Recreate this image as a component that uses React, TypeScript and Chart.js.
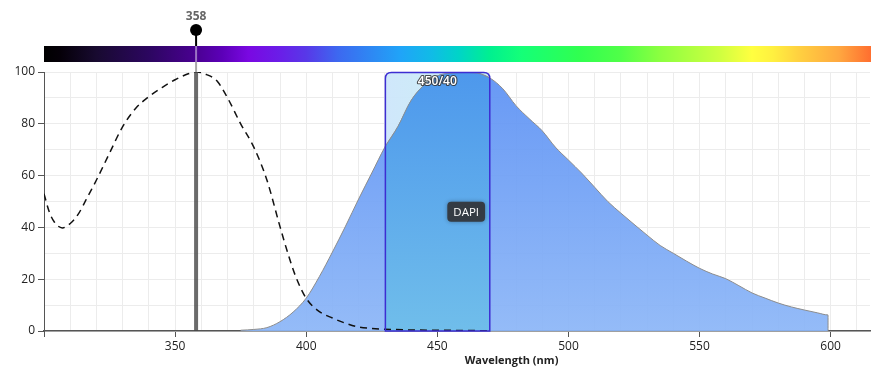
import React, { useEffect, useRef } from 'react';
import { Chart, registerables } from 'chart.js';

Chart.register(...registerables);

// ---------- data ----------
const excitationWavelengths = [300, 302, 304, 307, 310, 313, 316, 320, 325, 330, 335, 340, 345, 350, 355, 358, 362, 366, 370, 375, 380, 385, 390, 393, 396, 400, 405, 410, 415, 420, 425, 430, 440, 450, 460, 470];
const excitationValues = [53, 46, 42, 39.8, 41.5, 45, 50.6, 58.3, 68.7, 78.9, 86, 90.5, 94, 97, 99.3, 100, 99, 96.5, 90, 80, 71, 58.3, 40.3, 30, 21, 12.6, 7.5, 5, 3, 1.5, 1, 0.7, 0.4, 0.3, 0.2, 0.1];

const emissionWavelengths = [375, 380, 385, 390, 395, 400, 405, 410, 415, 420, 425, 430, 435, 440, 445, 450, 455, 460, 465, 470, 475, 480, 485, 490, 495, 500, 505, 510, 515, 520, 525, 530, 535, 540, 545, 550, 555, 560, 565, 570, 575, 580, 585, 590, 595, 599, 599];
const emissionValues = [0.3, 0.6, 1.3, 3.6, 7.3, 12.7, 21, 30.5, 40.5, 51, 61, 71, 79, 89, 95, 98.5, 99.5, 99.8, 99.6, 97.7, 93.5, 87, 82, 77.3, 71, 66, 61, 55.5, 50, 45.5, 41.2, 37, 33, 30, 27, 24.2, 22, 20.2, 17.5, 14.7, 12.7, 10.8, 9.3, 8.1, 7, 6.2, 0];

const filterCenter = 450;
const filterBandwidth = 40;
const filterLabel = '450/40';
const laserWavelengths = [358];
const fluorophoreLabel = 'DAPI';
const fluorophoreLabelAt = [461, 46];

const xTickLabels = [350, 400, 450, 500, 550, 600];
const yTickLabels = [0, 20, 40, 60, 80, 100];
const xTitle = 'Wavelength (nm)';

const colorbarStops = [300, 306, 320, 340, 358, 368, 378, 390, 400, 412, 428, 436, 448, 458, 470, 482, 504, 520, 535, 558, 570, 578, 588, 603, 615];
const colorbarColors = ['#000000', '#050008', '#180a30', '#2c0660', '#4a0092', '#5c00b8', '#7a08e2', '#6a1ee8', '#5838e8', '#3d68f0', '#2a90f4', '#20a4f8', '#10bce6', '#00d4c8', '#00f090', '#14ff78', '#30ff50', '#50ff48', '#8cff40', '#d0ff40', '#ffff40', '#fff040', '#ffd040', '#ffa840', '#ff7030'];

const FONT = "'Open Sans', 'DejaVu Sans', sans-serif";

function toPoints(xs: number[], ys: number[]) {
  return xs.map((x, i) => ({ x, y: ys[i] }));
}

function topRoundedRect(ctx: CanvasRenderingContext2D, l: number, t: number, r: number, b: number, rad: number) {
  ctx.beginPath();
  ctx.moveTo(l, b);
  ctx.lineTo(l, t + rad);
  ctx.quadraticCurveTo(l, t, l + rad, t);
  ctx.lineTo(r - rad, t);
  ctx.quadraticCurveTo(r, t, r, t + rad);
  ctx.lineTo(r, b);
  ctx.closePath();
}

function roundRect(ctx: CanvasRenderingContext2D, x: number, y: number, w: number, h: number, r: number) {
  ctx.beginPath();
  ctx.moveTo(x + r, y);
  ctx.lineTo(x + w - r, y);
  ctx.quadraticCurveTo(x + w, y, x + w, y + r);
  ctx.lineTo(x + w, y + h - r);
  ctx.quadraticCurveTo(x + w, y + h, x + w - r, y + h);
  ctx.lineTo(x + r, y + h);
  ctx.quadraticCurveTo(x, y + h, x, y + h - r);
  ctx.lineTo(x, y + r);
  ctx.quadraticCurveTo(x, y, x + r, y);
  ctx.closePath();
}

const spectraPlugin = {
  id: 'spectraExtras',
  beforeDatasetsDraw(chart: any) {
    const { ctx, scales } = chart;
    const x = scales.x, y = scales.y;
    const l = x.getPixelForValue(filterCenter - filterBandwidth / 2);
    const r = x.getPixelForValue(filterCenter + filterBandwidth / 2);
    const t = y.getPixelForValue(100);
    const b = y.getPixelForValue(0);
    ctx.save();
    const g = ctx.createLinearGradient(l, 0, r, 0);
    g.addColorStop(0, 'rgba(205,230,251,0.95)');
    g.addColorStop(1, 'rgba(200,240,242,0.95)');
    ctx.fillStyle = g;
    topRoundedRect(ctx, l, t, r, b, 6);
    ctx.fill();
    ctx.restore();
  },
  afterDatasetsDraw(chart: any) {
    const { ctx, scales, chartArea } = chart;
    const x = scales.x, y = scales.y;
    const l = x.getPixelForValue(filterCenter - filterBandwidth / 2);
    const r = x.getPixelForValue(filterCenter + filterBandwidth / 2);
    const t = y.getPixelForValue(100);
    const b = y.getPixelForValue(0);
    ctx.save();
    ctx.strokeStyle = '#3d2ed2';
    ctx.lineWidth = 1.5;
    topRoundedRect(ctx, l + 0.5, t + 0.5, r, b, 6);
    ctx.stroke();

    laserWavelengths.forEach((w) => {
      const px = x.getPixelForValue(w);
      ctx.strokeStyle = 'rgba(70,70,70,0.8)';
      ctx.lineWidth = 4;
      ctx.beginPath();
      ctx.moveTo(px, chartArea.top);
      ctx.lineTo(px, chartArea.bottom);
      ctx.stroke();
    });

    ctx.font = `600 12px ${FONT}`;
    ctx.textAlign = 'center';
    ctx.textBaseline = 'middle';
    const fx = x.getPixelForValue(filterCenter);
    ctx.lineJoin = 'round';
    ctx.strokeStyle = 'rgba(50,50,50,0.85)';
    ctx.lineWidth = 2.2;
    ctx.strokeText(filterLabel, fx, t + 9.5);
    ctx.fillStyle = '#ffffff';
    ctx.fillText(filterLabel, fx, t + 9.5);

    const dx = x.getPixelForValue(fluorophoreLabelAt[0]);
    const dy = y.getPixelForValue(fluorophoreLabelAt[1]);
    ctx.font = `11.5px ${FONT}`;
    const tw = ctx.measureText(fluorophoreLabel).width;
    const bw = tw + 12, bh = 20;
    ctx.shadowColor = 'rgba(0,0,0,0.35)';
    ctx.shadowBlur = 4;
    ctx.fillStyle = 'rgba(52,56,62,0.95)';
    roundRect(ctx, dx - bw / 2, dy - bh / 2, bw, bh, 4);
    ctx.fill();
    ctx.shadowBlur = 0;
    ctx.shadowColor = 'transparent';
    ctx.fillStyle = '#ffffff';
    ctx.fillText(fluorophoreLabel, dx, dy + 0.5);
    ctx.restore();
  },
  afterDraw(chart: any) {
    const { ctx, scales, chartArea } = chart;
    const x = scales.x;
    const barTop = chartArea.top - 26;
    const barH = 16;
    ctx.save();
    const g = ctx.createLinearGradient(chartArea.left, 0, chartArea.right, 0);
    const span = chartArea.right - chartArea.left;
    colorbarStops.forEach((w, i) => {
      const p = (x.getPixelForValue(w) - chartArea.left) / span;
      g.addColorStop(Math.min(1, Math.max(0, p)), colorbarColors[i]);
    });
    ctx.fillStyle = g;
    ctx.fillRect(chartArea.left, barTop, span + 1, barH);

    laserWavelengths.forEach((w) => {
      const px = x.getPixelForValue(w);
      ctx.strokeStyle = '#a8a8a8';
      ctx.lineWidth = 2;
      ctx.beginPath();
      ctx.moveTo(px, barTop + barH);
      ctx.lineTo(px, chartArea.top);
      ctx.stroke();
      ctx.strokeStyle = 'rgba(255,255,255,0.45)';
      ctx.beginPath();
      ctx.moveTo(px, barTop);
      ctx.lineTo(px, barTop + barH);
      ctx.stroke();
      ctx.strokeStyle = '#000';
      ctx.beginPath();
      ctx.moveTo(px, barTop - 12);
      ctx.lineTo(px, barTop);
      ctx.stroke();
      ctx.fillStyle = '#000';
      ctx.beginPath();
      ctx.arc(px, barTop - 16, 6, 0, Math.PI * 2);
      ctx.fill();
      ctx.font = `bold 12px ${FONT}`;
      ctx.textAlign = 'center';
      ctx.textBaseline = 'alphabetic';
      ctx.fillStyle = '#666';
      ctx.fillText(String(w), px, barTop - 26);
    });

    ctx.font = `bold 11px ${FONT}`;
    ctx.fillStyle = '#222';
    ctx.textAlign = 'center';
    ctx.textBaseline = 'middle';
    ctx.fillText(xTitle, chartArea.left + span * 0.566, chartArea.bottom + 30);
    ctx.restore();
  },
};

export default function App() {
  const ref = useRef<HTMLCanvasElement | null>(null);
  useEffect(() => {
    if (!ref.current) return;
    const emissionPts = toPoints(emissionWavelengths, emissionValues);
    const lo = filterCenter - filterBandwidth / 2;
    const hi = filterCenter + filterBandwidth / 2;
    const overlapPts = emissionPts.filter((p) => p.x >= lo && p.x <= hi);

    const chart = new Chart(ref.current, {
      type: 'line',
      data: {
        datasets: [
          {
            label: 'DAPI EX',
            data: toPoints(excitationWavelengths, excitationValues),
            borderColor: '#111',
            borderWidth: 1.5,
            borderDash: [7, 5],
            fill: false,
            pointRadius: 0,
            cubicInterpolationMode: 'monotone',
          },
          {
            label: 'overlap',
            data: overlapPts,
            borderColor: 'rgba(140,140,140,0.7)',
            borderWidth: 1,
            pointRadius: 0,
            fill: 'origin',
            cubicInterpolationMode: 'monotone',
            backgroundColor: (c: any) => {
              const { chart: ch } = c;
              const ca = ch.chartArea;
              if (!ca) return 'rgba(80,160,235,0.9)';
              const gr = ch.ctx.createLinearGradient(0, ca.top, 0, ca.bottom);
              gr.addColorStop(0, 'rgba(76,152,236,0.95)');
              gr.addColorStop(1, 'rgba(110,190,234,0.95)');
              return gr;
            },
          },
          {
            label: 'DAPI EM',
            data: emissionPts,
            borderColor: '#8c8c8c',
            borderWidth: 1,
            pointRadius: 0,
            fill: 'origin',
            cubicInterpolationMode: 'monotone',
            backgroundColor: (c: any) => {
              const { chart: ch } = c;
              const ca = ch.chartArea;
              if (!ca) return 'rgba(100,150,245,0.9)';
              const gr = ch.ctx.createLinearGradient(0, ca.top, 0, ca.bottom);
              gr.addColorStop(0, 'rgba(92,145,244,0.93)');
              gr.addColorStop(1, 'rgba(140,182,247,0.93)');
              return gr;
            },
          },
        ],
      },
      options: {
        animation: false,
        responsive: true,
        maintainAspectRatio: false,
        layout: { padding: { top: 72, right: 1, left: 0, bottom: 0 } },
        plugins: { legend: { display: false }, tooltip: { enabled: false } },
        elements: { line: { tension: 0 } },
        scales: {
          x: {
            type: 'linear',
            min: 300,
            max: 615,
            afterFit: (s: any) => { s.height = 52; },
            grid: {
              color: '#ececec',
              tickLength: 6,
              tickColor: (c: any) => (c.tick && c.tick.value % 50 === 0 ? '#555' : 'transparent'),
            },
            border: { color: '#555', width: 1.5 },
            ticks: {
              stepSize: 10,
              autoSkip: false,
              maxRotation: 0,
              includeBounds: false,
              padding: 2,
              color: '#222',
              font: { size: 12, family: FONT },
              callback: (v: any) => (xTickLabels.includes(Number(v)) ? String(v) : ''),
            },
          },
          y: {
            min: 0,
            max: 100,
            afterFit: (s: any) => { s.width = 44; },
            grid: {
              color: '#ececec',
              tickLength: 6,
              tickColor: (c: any) => (c.tick && yTickLabels.includes(c.tick.value) ? '#555' : 'transparent'),
            },
            border: { color: '#555', width: 1 },
            ticks: {
              stepSize: 10,
              autoSkip: false,
              padding: 3,
              color: '#222',
              font: { size: 12, family: FONT },
              callback: (v: any) => (yTickLabels.includes(Number(v)) ? String(v) : ''),
            },
          },
        },
      },
      plugins: [spectraPlugin],
    } as any);
    return () => chart.destroy();
  }, []);

  return (
    <div style={{ position: 'fixed', left: 0, top: 0, width: 871, height: 383, background: '#fff' }}>
      <canvas ref={ref} />
    </div>
  );
}
